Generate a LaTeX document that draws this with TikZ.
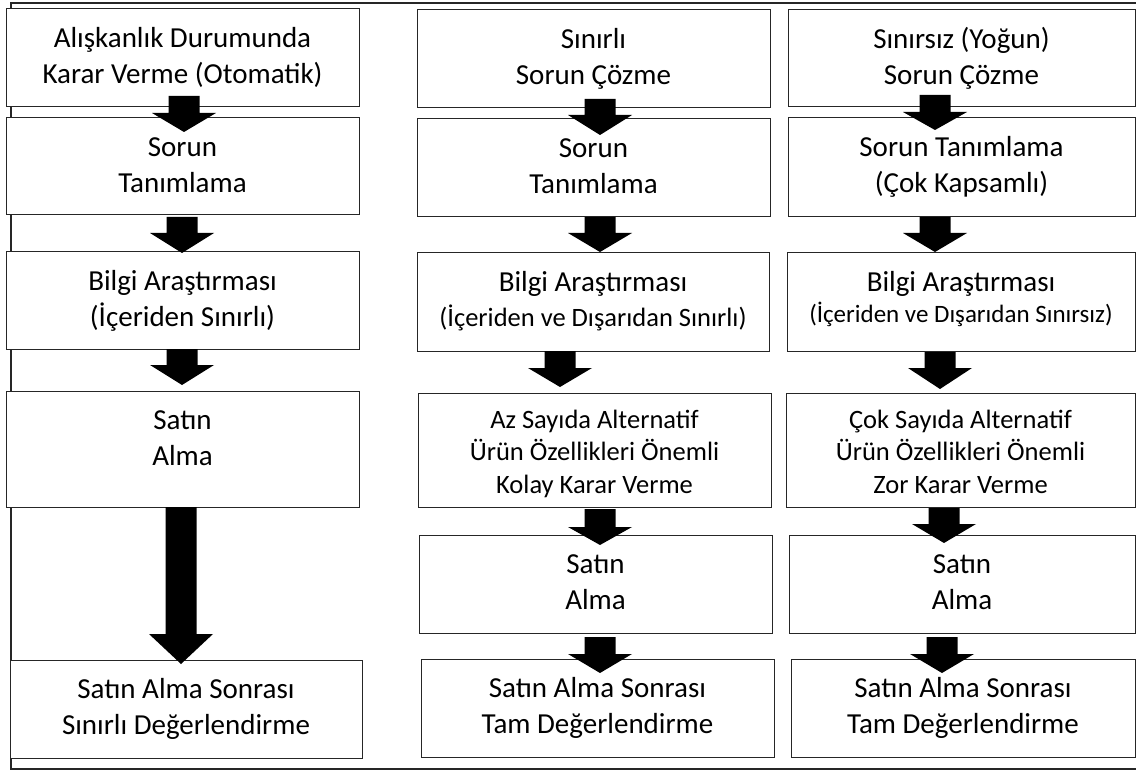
\documentclass[tikz,border=0pt]{standalone}
\usepackage{fontspec}
\setmainfont{Carlito}
\usetikzlibrary{calc}

\tikzset{
  stagebox/.style={draw=black!85, line width=1pt, fill=white, inner sep=0pt, outer sep=0pt},
  labelbase/.style={align=center, inner sep=0pt, anchor=north},
  stagetext/.style={labelbase, yshift=-12pt, font=\fontsize{29}{36}\selectfont},
  smalltext/.style={labelbase, yshift=-9pt, font=\fontsize{26.5}{32.5}\selectfont},
  framerule/.style={line width=2pt, draw=black!85},
  blockhead/.style={fill=black}
}

% strut that fixes the first baseline 26pt below the label top
\newcommand\firstline{\rule{0pt}{26pt}}

% box from (x1,y1) to (x2,y2) with its label hung from the top edge
\newcommand\stage[7]{%
  \node[stagebox, minimum width={(#4-#2)*1pt}, minimum height={(#5-#3)*1pt}]
    (#1) at ({(#2+#4)/2},{(#3+#5)/2}) {};
  \node[#6] (#1-label) at (#1.north) {\firstline#7};
}

% thick block arrow: from node, to node, x centre, rise into the upper box,
% depth into the lower box, head length
\newcommand\blockarrow[6]{%
  \path (#1.south -| #3,0) ++(0,{-(#4)}) coordinate (bs)
        (#2.north -| #3,0) ++(0,{#5}) coordinate (bt);
  \fill[blockhead] ($(bs)+(-15.5,0)$) -- ($(bs)+(15.5,0)$) -- ($(bt)+(15.5,{-(#6)})$)
    -- ($(bt)+(32,{-(#6)})$) -- (bt) -- ($(bt)+(-32,{-(#6)})$)
    -- ($(bt)+(-15.5,{-(#6)})$) -- cycle;
}

\begin{document}
\begin{tikzpicture}[x=1pt, y=-1pt]
\useasboundingbox (0,0) rectangle (1136,770);

% outer frame
\coordinate (ftr) at (1136,3);
\coordinate (ftl) at (11,3);
\coordinate (fbl) at (11,768.5);
\coordinate (fbr) at (1136,768.5);
\draw[framerule] (ftr) -- (ftl) -- (fbl) -- (fbr);

% habitual decision making
\stage{a1}{6}{9}{359}{107}{stagetext}{Alışkanlık Durumunda\\Karar Verme (Otomatik)}
\stage{a2}{6}{118}{359}{215}{stagetext}{Sorun\\Tanımlama}
\stage{a3}{6}{252}{359}{349}{stagetext}{Bilgi Araştırması\\(İçeriden Sınırlı)}
\stage{a4}{6}{391}{359}{507}{stagetext}{Satın\\Alma}
\stage{a5}{10}{660}{362}{758}{stagetext}{Satın Alma Sonrası\\Sınırlı Değerlendirme}

% limited problem solving
\stage{b1}{417}{10}{770}{108}{stagetext}{Sınırlı\\Sorun Çözme}
\stage{b2}{417}{119}{770}{217}{stagetext}{Sorun\\Tanımlama}
\stage{b3}{417}{253}{769}{351}{stagetext}{Bilgi Araştırması\\[-1pt]{\fontsize{26.5}{32.5}\selectfont(İçeriden ve Dışarıdan Sınırlı)}}
\stage{b4}{418}{393}{771}{507}{smalltext}{Az Sayıda Alternatif\\Ürün Özellikleri Önemli\\Kolay Karar Verme}
\stage{b5}{419}{535}{772}{633}{stagetext}{Satın\\Alma}
\stage{b6}{421}{659}{774}{757}{stagetext}{Satın Alma Sonrası\\Tam Değerlendirme}

% extended problem solving
\stage{c1}{788}{10}{1135}{107}{stagetext}{Sınırsız (Yoğun)\\Sorun Çözme}
\stage{c2}{788}{118}{1135}{217}{stagetext}{Sorun Tanımlama\\(Çok Kapsamlı)}
\stage{c3}{787}{253}{1135}{351}{stagetext}{Bilgi Araştırması\\[-5pt]{\fontsize{25}{31}\selectfont(İçeriden ve Dışarıdan Sınırsız)}}
\stage{c4}{786}{393}{1135}{507}{smalltext}{Çok Sayıda Alternatif\\Ürün Özellikleri Önemli\\Zor Karar Verme}
\stage{c5}{789}{535}{1135}{633}{stagetext}{Satın\\Alma}
\stage{c6}{791}{659}{1135}{757}{stagetext}{Satın Alma Sonrası\\Tam Değerlendirme}

% arrows
\blockarrow{a1}{a2}{184}{11}{14}{19}
\blockarrow{a2}{a3}{182}{-2}{1}{20}
\blockarrow{a3}{a4}{182}{0}{-6}{20}
\blockarrow{a4}{a5}{181}{0}{4}{30}

\blockarrow{b1}{b2}{600}{9}{16}{20}
\blockarrow{b2}{b3}{600}{0}{-1}{19}
\blockarrow{b3}{b4}{560}{0}{-6}{19}
\blockarrow{b4}{b5}{600}{-2}{10}{18}
\blockarrow{b5}{b6}{600}{-4}{14}{19}

\blockarrow{c1}{c2}{935}{12}{12}{18}
\blockarrow{c2}{c3}{935}{0}{-1}{19}
\blockarrow{c3}{c4}{940}{-1}{-4}{21}
\blockarrow{c4}{c5}{944}{-1}{8}{19}
\blockarrow{c5}{c6}{942}{-4}{14}{19}
\end{tikzpicture}
\end{document}
